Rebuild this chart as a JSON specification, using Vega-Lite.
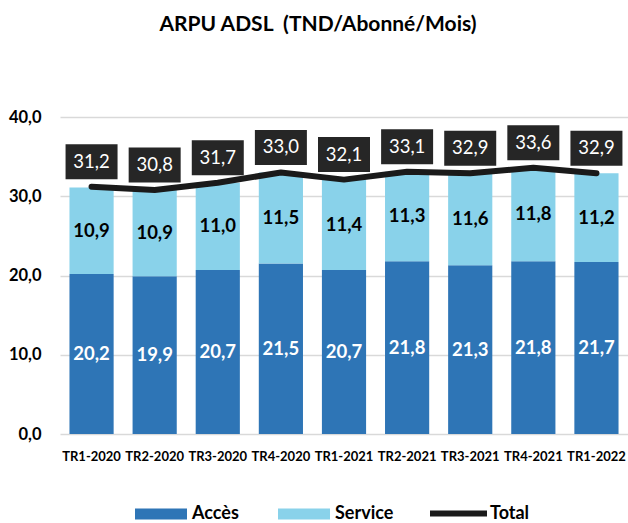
{
  "$schema": "https://vega.github.io/schema/vega-lite/v6.json",
  "width": 568,
  "height": 317,
  "autosize": {"type": "none"},
  "padding": {"left": 60, "top": 117, "right": 0, "bottom": 89},
  "background": "white",
  "title": {
    "text": "ARPU ADSL\u00a0 (TND/Abonné/Mois)",
    "font": "Lato",
    "fontSize": 21,
    "fontWeight": "bold",
    "color": "#000000",
    "anchor": "middle",
    "frame": "group",
    "offset": 74,
    "dx": -26
  },
  "config": {
    "locale": {"number": {"decimal": ",", "thousands": " ", "grouping": [3], "currency": ["", ""]}},
    "view": {"stroke": null},
    "font": "Lato"
  },
  "datasets": {
    "bars": [
      {"quarter": "TR1-2020", "type": "Accès", "value": 20.2},
      {"quarter": "TR1-2020", "type": "Service", "value": 10.9},
      {"quarter": "TR2-2020", "type": "Accès", "value": 19.9},
      {"quarter": "TR2-2020", "type": "Service", "value": 10.9},
      {"quarter": "TR3-2020", "type": "Accès", "value": 20.7},
      {"quarter": "TR3-2020", "type": "Service", "value": 11.0},
      {"quarter": "TR4-2020", "type": "Accès", "value": 21.5},
      {"quarter": "TR4-2020", "type": "Service", "value": 11.5},
      {"quarter": "TR1-2021", "type": "Accès", "value": 20.7},
      {"quarter": "TR1-2021", "type": "Service", "value": 11.4},
      {"quarter": "TR2-2021", "type": "Accès", "value": 21.8},
      {"quarter": "TR2-2021", "type": "Service", "value": 11.3},
      {"quarter": "TR3-2021", "type": "Accès", "value": 21.3},
      {"quarter": "TR3-2021", "type": "Service", "value": 11.6},
      {"quarter": "TR4-2021", "type": "Accès", "value": 21.8},
      {"quarter": "TR4-2021", "type": "Service", "value": 11.8},
      {"quarter": "TR1-2022", "type": "Accès", "value": 21.7},
      {"quarter": "TR1-2022", "type": "Service", "value": 11.2}
    ],
    "totals": [
      {"quarter": "TR1-2020", "total": 31.2},
      {"quarter": "TR2-2020", "total": 30.8},
      {"quarter": "TR3-2020", "total": 31.7},
      {"quarter": "TR4-2020", "total": 33.0},
      {"quarter": "TR1-2021", "total": 32.1},
      {"quarter": "TR2-2021", "total": 33.1},
      {"quarter": "TR3-2021", "total": 32.9},
      {"quarter": "TR4-2021", "total": 33.6},
      {"quarter": "TR1-2022", "total": 32.9}
    ]
  },
  "encoding": {
    "x": {
      "field": "quarter",
      "type": "nominal",
      "sort": null,
      "title": null,
      "scale": {"paddingInner": 0.3, "paddingOuter": 0.15},
      "axis": {
        "labelAngle": 0,
        "ticks": false,
        "domain": false,
        "labelFont": "Lato",
        "labelFontSize": 13,
        "labelFontWeight": "bold",
        "labelColor": "#000000",
        "labelPadding": 16,
        "labelOverlap": false,
        "labelFlush": false,
        "labelBound": false
      }
    }
  },
  "layer": [
    {
      "data": {"name": "bars"},
      "mark": {"type": "bar"},
      "encoding": {
        "y": {
          "field": "value",
          "type": "quantitative",
          "stack": "zero",
          "title": null,
          "scale": {"domain": [0, 40], "nice": false},
          "axis": {
            "values": [0, 10, 20, 30, 40],
            "format": ".1f",
            "ticks": false,
            "tickSize": 0,
            "domain": false,
            "gridColor": "#d9d9d9",
            "gridWidth": 1.5,
            "labelFont": "Lato",
            "labelFontSize": 16.5,
            "labelFontWeight": "bold",
            "labelColor": "#000000",
            "labelPadding": 19
          }
        },
        "fill": {
          "field": "type",
          "type": "nominal",
          "scale": {"domain": ["Accès", "Service"], "range": ["#2E75B6", "#89D2EA"]},
          "legend": {
            "title": null,
            "orient": "none",
            "legendX": 75,
            "legendY": 371,
            "direction": "horizontal",
            "padding": 0,
            "symbolType": "M-1,-0.21H1V0.21H-1Z",
            "symbolSize": 2704,
            "symbolStrokeWidth": 0,
            "labelFont": "Lato",
            "labelFontSize": 18,
            "labelFontWeight": "bold",
            "labelColor": "#000000",
            "labelOffset": 5,
            "columnPadding": 39
          }
        },
        "order": {"field": "type", "sort": "ascending"}
      }
    },
    {
      "data": {"name": "bars"},
      "mark": {"type": "text", "font": "Lato", "fontSize": 18.5, "fontWeight": "bold", "baseline": "middle"},
      "encoding": {
        "y": {"field": "value", "type": "quantitative", "stack": "zero", "bandPosition": 0.5},
        "detail": {"field": "type", "type": "nominal"},
        "order": {"field": "type", "sort": "ascending"},
        "text": {"field": "value", "type": "quantitative", "format": ".1f"},
        "color": {"condition": {"test": "datum.type === 'Accès'", "value": "#ffffff"}, "value": "#000000"}
      }
    },
    {
      "data": {"name": "totals"},
      "mark": {"type": "line", "strokeWidth": 6, "strokeCap": "round", "strokeJoin": "round"},
      "encoding": {
        "y": {"field": "total", "type": "quantitative"},
        "stroke": {
          "datum": "Total",
          "type": "nominal",
          "scale": {"domain": ["Total"], "range": ["#1a1a1a"]},
          "legend": {
            "title": null,
            "orient": "none",
            "legendX": 367,
            "legendY": 365,
            "padding": 0,
            "symbolType": "stroke",
            "symbolSize": 3249,
            "symbolStrokeWidth": 6,
            "labelFont": "Lato",
            "labelFontSize": 18,
            "labelFontWeight": "bold",
            "labelColor": "#000000",
            "labelOffset": 0
          }
        }
      }
    },
    {
      "data": {"name": "totals"},
      "mark": {"type": "point", "shape": "M-1,-0.673H1V0.673H-1Z", "size": 2704, "filled": true, "color": "#262626", "opacity": 1, "strokeWidth": 0, "yOffset": -25},
      "encoding": {
        "y": {"field": "total", "type": "quantitative"}
      }
    },
    {
      "data": {"name": "totals"},
      "mark": {"type": "text", "font": "Lato", "fontSize": 18.5, "color": "#ffffff", "baseline": "middle", "yOffset": -25},
      "encoding": {
        "y": {"field": "total", "type": "quantitative"},
        "text": {"field": "total", "type": "quantitative", "format": ".1f"}
      }
    }
  ]
}
